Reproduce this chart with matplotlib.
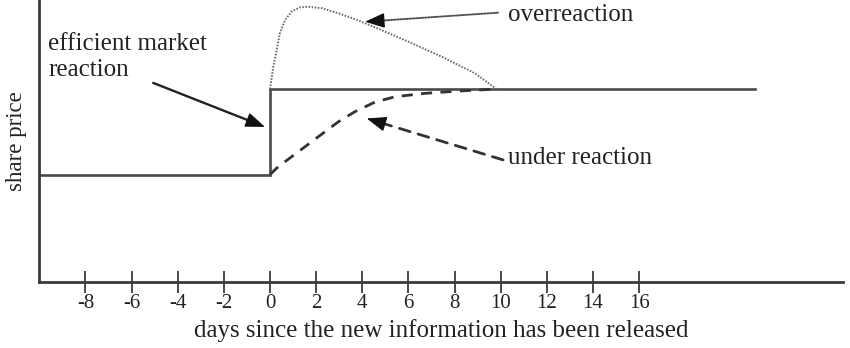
import matplotlib
matplotlib.use("Agg")
import matplotlib.pyplot as plt

# ---- data (days since release, share price in arbitrary units) ----
eff_days = [-10, 0, 0, 21]
eff_price = [38.1, 38.1, 68.4, 68.4]

over_days = [0, 0.14, 0.29, 0.43, 0.65, 0.94, 1.30, 1.66, 2.24, 2.96, 3.68,
             4.41, 6.00, 7.44, 8.88, 9.82]
over_price = [68.4, 76.3, 82.3, 88.2, 92.9, 95.9, 97.4, 97.6, 97.1, 95.3, 93.2,
              90.8, 85.2, 79.9, 74.0, 68.4]

under_days = [0, 0.36, 1.23, 2.09, 2.96, 3.68, 4.55, 5.42, 6.72, 8.16, 9.75]
under_price = [38.1, 40.9, 46.2, 51.5, 56.8, 60.4, 63.8, 65.7, 66.9, 67.7, 68.4]

tick_days = [-8, -6, -4, -2, 0, 2, 4, 6, 8, 10, 12, 14, 16]
tick_labels = [str(t) for t in tick_days]

xlabel = "days since the new information has been released"
ylabel = "share price"
lbl_eff = "efficient market\nreaction"
lbl_over = "overreaction"
lbl_under = "under reaction"

plt.rcParams['font.family'] = ['Liberation Serif', 'DejaVu Serif']

W, H = 850, 348
fig = plt.figure(figsize=(W / 100, H / 100), dpi=100)
ax = fig.add_axes([39 / W, (H - 282) / H, (843 - 39) / W, 282 / H])
ax.set_xlim(-10.01, 24.83)
ax.set_ylim(0, 100)

dark = '#3a3a3a'
txt = '#222222'
for s in ['top', 'right']:
    ax.spines[s].set_visible(False)
for s in ['left', 'bottom']:
    ax.spines[s].set_color(dark)
    ax.spines[s].set_linewidth(2)

ax.set_yticks([])
ax.set_xticks(tick_days)
ax.set_xticklabels(tick_labels, fontsize=15, color=txt)
ax.tick_params(axis='x', direction='inout', length=16, width=1.3, color=dark, pad=1)

ax.plot(eff_days, eff_price, color='#4a4a4a', lw=1.9, solid_joinstyle='miter')
ax.plot(over_days, over_price, color='#666666', lw=1.4, linestyle=(0, (0.8, 0.8)))
ax.plot(under_days, under_price, color='#333333', lw=2.0, linestyle=(0, (4, 3)))

ax.set_xlabel(xlabel, fontsize=18, color=txt, labelpad=4)
ax.set_ylabel(ylabel, fontsize=16.5, color=txt)
ax.yaxis.set_label_coords(-0.0155, 0.50)

head = '-|>,head_length=1.1,head_width=0.42'


def arrow(start, tip, ls, lw, col):
    # shaft
    ax.annotate('', xy=tip, xytext=start,
                arrowprops=dict(arrowstyle='-', color=col, lw=lw, linestyle=ls,
                                shrinkA=0, shrinkB=6))
    # solid head
    dx = (tip[0] - start[0]) * 0.08
    dy = (tip[1] - start[1]) * 0.08
    ax.annotate('', xy=tip, xytext=(tip[0] - dx, tip[1] - dy),
                arrowprops=dict(arrowstyle=head, color='#111111', lw=1.0,
                                shrinkA=0, shrinkB=0, mutation_scale=11))


arrow((9.88, 95.5), (4.12, 92.3), (0, (0.8, 0.8)), 1.4, '#555555')
arrow((10.1, 43.3), (4.19, 58.0), (0, (4, 3)), 2.0, '#333333')
arrow((-5.06, 70.6), (-0.22, 55.0), '-', 1.7, '#222222')

ax.text(10.33, 94.8, lbl_over, fontsize=18, va='center', ha='left', color=txt)
ax.text(10.33, 43.8, lbl_under, fontsize=18, va='center', ha='left', color=txt)
ax.text(-9.6, 79.8, lbl_eff, fontsize=18, va='center', ha='left',
        color=txt, linespacing=1.22)

fig.savefig('out.png', dpi=100)
